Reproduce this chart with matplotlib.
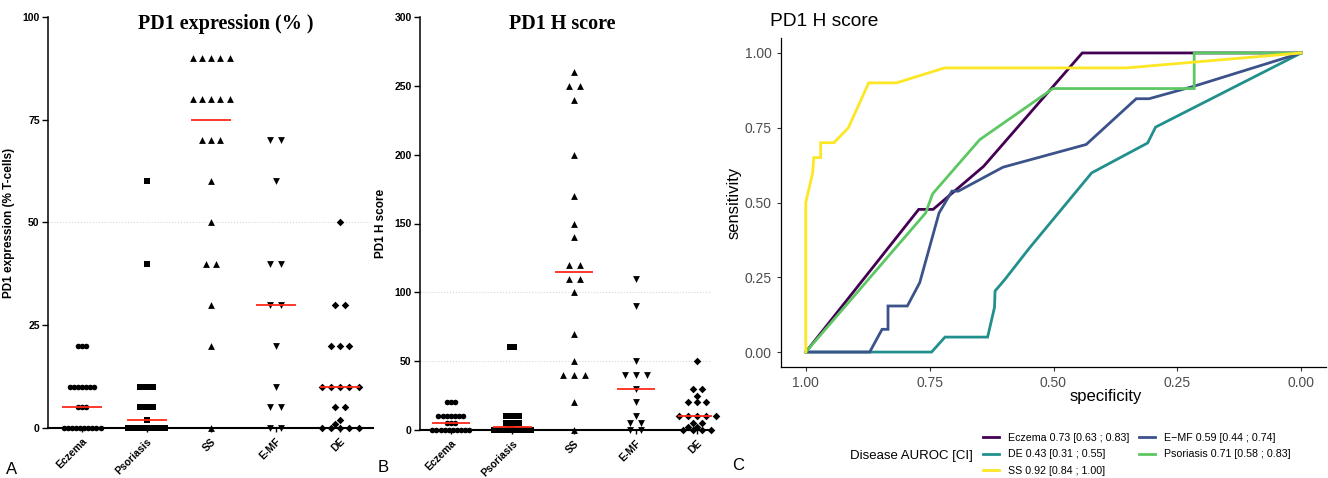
import numpy as np
import matplotlib
matplotlib.use('Agg')
import matplotlib.pyplot as plt

plt.rcParams['font.family'] = ['Liberation Sans', 'DejaVu Sans']

W, H = 1328, 478

categories = ['Eczema', 'Psoriasis', 'SS', 'E-MF', 'DE']
markers = ['o', 's', '^', 'v', 'D']
marker_sizes = [16, 20, 24, 24, 15]

# panel A: PD1 expression (% T-cells)
pct_eczema = [20, 20, 20, 10, 10, 10, 10, 10, 10, 10, 5, 5, 5, 0, 0, 0, 0, 0, 0, 0, 0, 0, 0]
pct_psoriasis = [60, 40, 10, 10, 10, 10, 5, 5, 5, 5, 2, 0, 0, 0, 0, 0, 0, 0, 0, 0, 0]
pct_ss = [90, 90, 90, 90, 90, 80, 80, 80, 80, 80, 70, 70, 70, 60, 50, 40, 40, 30, 20, 0]
pct_emf = [70, 70, 60, 40, 40, 30, 30, 20, 10, 5, 5, 0, 0]
pct_de = [50, 30, 30, 20, 20, 20, 10, 10, 10, 10, 10, 5, 5, 2, 1, 0, 0, 0, 0, 0]

# panel B: PD1 H score
hs_eczema = [20, 20, 20, 10, 10, 10, 10, 10, 10, 10, 5, 5, 5, 0, 0, 0, 0, 0, 0, 0, 0, 0, 0]
hs_psoriasis = [60, 60, 10, 10, 10, 10, 5, 5, 5, 5, 2, 2, 0, 0, 0, 0, 0, 0, 0, 0, 0, 0]
hs_ss = [260, 250, 250, 240, 200, 170, 150, 140, 120, 120, 110, 110, 100, 70, 50, 40, 40, 40, 20, 0]
hs_emf = [110, 90, 50, 40, 40, 40, 30, 20, 10, 5, 5, 0, 0]
hs_de = [50, 30, 30, 25, 20, 20, 20, 10, 10, 10, 10, 10, 5, 5, 2, 2, 0, 0, 0, 0]

# panel C: ROC curves (specificity, sensitivity)
roc_labels = ['Eczema 0.73 [0.63 ; 0.83]', 'DE 0.43 [0.31 ; 0.55]', 'SS 0.92 [0.84 ; 1.00]',
              'E\u2212MF 0.59 [0.44 ; 0.74]', 'Psoriasis 0.71 [0.58 ; 0.83]']
roc_colors = ['#440154', '#21908C', '#FDE725', '#3B528B', '#5DC863']
spec_eczema = [1, 0.772, 0.743, 0.641, 0.442, 0.216, 0]
sens_eczema = [0, 0.477, 0.477, 0.621, 1, 1, 1]
spec_de = [1, 0.746, 0.719, 0.633, 0.619, 0.618, 0.598, 0.548, 0.423, 0.310, 0.294, 0]
sens_de = [0, 0, 0.05, 0.05, 0.15, 0.204, 0.243, 0.349, 0.599, 0.699, 0.752, 1]
spec_ss = [1, 1, 0.986, 0.984, 0.97, 0.97, 0.943, 0.914, 0.873, 0.817, 0.72, 0.353, 0]
sens_ss = [0, 0.5, 0.6, 0.65, 0.65, 0.70, 0.70, 0.75, 0.90, 0.90, 0.95, 0.95, 1]
spec_emf = [1, 0.871, 0.846, 0.834, 0.834, 0.795, 0.770, 0.731, 0.705, 0.692, 0.602, 0.434, 0.333, 0.307, 0.216, 0]
sens_emf = [0, 0, 0.076, 0.076, 0.154, 0.154, 0.232, 0.465, 0.538, 0.538, 0.618, 0.694, 0.847, 0.847, 0.889, 1]
spec_pso = [1, 0.758, 0.744, 0.649, 0.501, 0.216, 0.216, 0]
sens_pso = [0, 0.465, 0.529, 0.71, 0.881, 0.881, 1, 1]


def px_axes(l, t, r, b):
    return [l / W, 1 - b / H, (r - l) / W, (b - t) / H]


def swarm_x(ax, xc, vals, step):
    # simple column scatter: symmetric rows, nudged when rows collide
    tr = ax.transData.transform
    x0 = tr((xc, 0))[0]
    ppu = tr((xc + 1, 0))[0] - x0
    xs = np.full(len(vals), float(xc))
    placed = []
    for v in sorted(set(vals)):
        idx = [i for i, u in enumerate(vals) if u == v]
        y = tr((xc, v))[1]
        base = (np.arange(len(idx)) - (len(idx) - 1) / 2) * step
        best, best_d = 0.0, -1
        for sh in (0, -0.5, 0.5, -1, 1):
            offs = base + sh * step
            d = min([np.hypot(o - px, y - py) for o in offs for px, py in placed] or [99])
            if d >= 5.5:
                best = sh * step
                break
            if d > best_d:
                best, best_d = sh * step, d
        for k, i in enumerate(idx):
            xs[i] = xc + (base[k] + best) / ppu
        placed += [(o + best, y) for o in base]
    return xs


def dot_panel(ax, groups, ymax, yticks, grid, ylabel, xlim, label_x):
    ax.set_xlim(*xlim)
    ax.set_ylim(0, ymax)
    for g in grid:
        ax.axhline(g, color='#D8D8D8', lw=0.8, ls=':', zorder=0)
    for c, vals in enumerate(groups):
        nmax = max(vals.count(v) for v in set(vals))
        step = min(11, 37 / max(nmax - 1, 1))
        xs = swarm_x(ax, c, vals, step)
        ax.scatter(xs, vals, marker=markers[c], s=marker_sizes[c], color='black',
                   linewidths=0, clip_on=False, zorder=3)
        ax.hlines(np.median(vals), c - 0.31, c + 0.31, color='#FF2A1A', lw=1.3, zorder=4)
    ax.spines['top'].set_visible(False)
    ax.spines['right'].set_visible(False)
    ax.spines['left'].set_linewidth(1.1)
    ax.spines['bottom'].set_linewidth(1.5)
    ax.set_yticks(yticks)
    ax.set_yticklabels([str(t) for t in yticks], fontweight='bold', fontsize=7.5)
    ax.set_xticks(range(len(categories)))
    ax.set_xticklabels(categories, rotation=45, ha='right', va='top',
                       rotation_mode='anchor', fontweight='bold', fontsize=7.5)
    ax.tick_params(axis='y', length=4, width=1, pad=2)
    ax.tick_params(axis='x', length=3, width=1, pad=3)
    ax.set_ylabel(ylabel, fontweight='bold', fontsize=8.5)
    ax.yaxis.set_label_coords(label_x, 0.5)


fig = plt.figure(figsize=(W / 100, H / 100), dpi=100)

axA = fig.add_axes(px_axes(48, 17, 373, 428))
dot_panel(axA, [pct_eczema, pct_psoriasis, pct_ss, pct_emf, pct_de], 100,
          [0, 25, 50, 75, 100], [50], 'PD1 expression (% T-cells)', (-0.527, 4.51), (15 - 48) / 325)
fig.text(226 / W, 1 - 24 / H, 'PD1 expression (% )', ha='center', va='center',
         family='Liberation Serif', fontweight='bold', fontsize=14.5)

axB = fig.add_axes(px_axes(420, 17, 712, 430))
dot_panel(axB, [hs_eczema, hs_psoriasis, hs_ss, hs_emf, hs_de], 300,
          [0, 50, 100, 150, 200, 250, 300], [50, 100], 'PD1 H score', (-0.50, 4.24), (387 - 420) / 292)
fig.text(562 / W, 1 - 24 / H, 'PD1 H score', ha='center', va='center',
         family='Liberation Serif', fontweight='bold', fontsize=14.5)

# ROC panel
axC = fig.add_axes(px_axes(781, 38, 1326, 367))
roc_data = [(spec_eczema, sens_eczema), (spec_de, sens_de), (spec_ss, sens_ss),
            (spec_emf, sens_emf), (spec_pso, sens_pso)]
order = [0, 1, 3, 4, 2]
for i in order:
    sp, se = roc_data[i]
    axC.plot(sp, se, color=roc_colors[i], lw=2.0, label=roc_labels[i], solid_joinstyle='miter')
axC.set_xlim(1.05, -0.05)
axC.set_ylim(-0.05, 1.05)
ticks = [1.0, 0.75, 0.5, 0.25, 0.0]
axC.set_xticks(ticks)
axC.set_xticklabels(['%.2f' % t for t in ticks])
axC.set_yticks(ticks)
axC.set_yticklabels(['%.2f' % t for t in ticks])
axC.tick_params(colors='#333333', labelcolor='#4D4D4D', labelsize=10, length=3, width=0.8)
for s in ['top', 'right']:
    axC.spines[s].set_visible(False)
for s in ['left', 'bottom']:
    axC.spines[s].set_linewidth(0.9)
axC.set_xlabel('specificity', fontsize=12)
axC.xaxis.set_label_coords((1106 - 781) / 545, (367 - 389) / 329)
axC.set_ylabel('sensitivity', fontsize=12)
axC.yaxis.set_label_coords((742 - 781) / 545, 0.5)
fig.text(770 / W, 1 - 21 / H, 'PD1 H score', ha='left', va='center', fontsize=13.8)

handles, labels = axC.get_legend_handles_labels()
hmap = dict(zip(labels, handles))
leg = fig.legend([hmap[l] for l in roc_labels], roc_labels, ncol=2, loc='upper left',
                 bbox_to_anchor=(983 / W, 1 - 433 / H), frameon=False, fontsize=7.7,
                 borderpad=0, borderaxespad=0, handlelength=1.5, handletextpad=0.85,
                 columnspacing=0.85, labelspacing=0.6)
fig.text(973 / W, 1 - 456 / H, 'Disease AUROC [CI]', ha='right', va='center', fontsize=9.5)

fig.text(12 / W, 1 - 469 / H, 'A', ha='center', va='center', fontsize=12)
fig.text(383 / W, 1 - 467 / H, 'B', ha='center', va='center', fontsize=12)
fig.text(738 / W, 1 - 465 / H, 'C', ha='center', va='center', fontsize=12)

fig.savefig('out.png', dpi=100)
